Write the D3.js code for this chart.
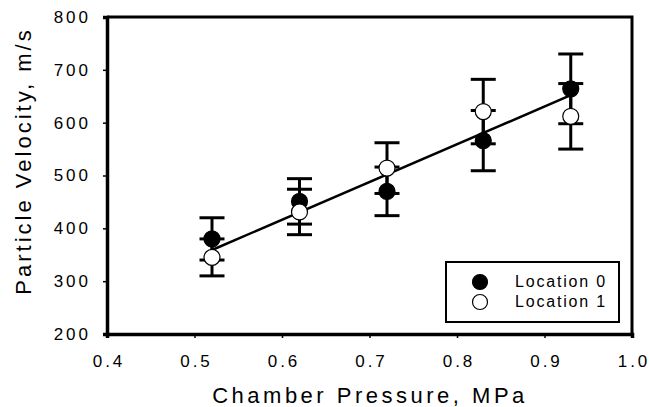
<!DOCTYPE html>
<html>
<head>
<meta charset="utf-8">
<script src="https://cdn.jsdelivr.net/npm/d3@7"></script>
<style>
  body { margin: 0; background: #fff; }
  text { font-family: "Liberation Sans", Arial, sans-serif; fill: #000; }
</style>
</head>
<body>
<script>
// values
var pressure = [0.52, 0.62, 0.72, 0.83, 0.93];
var loc0 = [380, 451, 470, 566, 664];
var loc0Err = [40, 43, 46, 57, 66];
var loc1 = [345, 431, 514, 621, 612];
var loc1Err = [35, 43, 48, 61, 62];
var fitLine = [[0.52, 359], [0.93, 652]];
var xTicks = [0.4, 0.5, 0.6, 0.7, 0.8, 0.9, 1.0];
var yTicks = [200, 300, 400, 500, 600, 700, 800];
var seriesNames = ["Location 0", "Location 1"];

var W = 649, H = 407;
var margin = {top: 17, right: 17, bottom: 73, left: 107};
var width = W - margin.left - margin.right;
var height = H - margin.top - margin.bottom;

var svg = d3.select("body")
  .append("svg")
    .attr("width", W)
    .attr("height", H);
var g = svg.append("g")
    .attr("transform", "translate(" + margin.left + "," + margin.top + ")");

var x = d3.scaleLinear().domain([0.4, 1.0]).range([0, width]);
var y = d3.scaleLinear().domain([200, 800]).range([height, 0]);

// frame top + right
g.append("path")
  .attr("d", "M0,0H" + width + "V" + height)
  .attr("fill", "none")
  .attr("stroke", "#000")
  .attr("stroke-width", 3);

var xAxis = g.append("g")
  .attr("transform", "translate(0," + height + ")")
  .call(d3.axisBottom(x).tickValues(xTicks).tickSize(4).tickPadding(17)
    .tickFormat(d3.format(".1f")));
var yAxis = g.append("g")
  .call(d3.axisLeft(y).tickValues(yTicks).tickSize(4).tickPadding(12));

[xAxis, yAxis].forEach(function(a) {
  a.select(".domain").attr("stroke-width", 3.5);
  a.selectAll(".tick line").attr("stroke-width", 1.5);
  a.selectAll(".tick text")
    .attr("font-size", 17)
    .style("letter-spacing", "3px")
    .attr("fill", "#000");
});
xAxis.selectAll(".tick text").attr("dx", 1.5);

// regression line
g.append("line")
  .attr("x1", x(fitLine[0][0])).attr("y1", y(fitLine[0][1]))
  .attr("x2", x(fitLine[1][0])).attr("y2", y(fitLine[1][1]))
  .attr("stroke", "#000")
  .attr("stroke-width", 2.5);

var series = [
  {vals: loc0, err: loc0Err, fill: "#000"},
  {vals: loc1, err: loc1Err, fill: "#fff"}
];

// error bars
series.forEach(function(s) {
  var eb = g.append("g").attr("stroke", "#000").attr("stroke-width", 3);
  pressure.forEach(function(p, i) {
    var cx = x(p), lo = y(s.vals[i] - s.err[i]), hi = y(s.vals[i] + s.err[i]);
    eb.append("line").attr("x1", cx).attr("x2", cx).attr("y1", lo).attr("y2", hi);
    eb.append("line").attr("x1", cx - 12.5).attr("x2", cx + 12.5).attr("y1", lo).attr("y2", lo);
    eb.append("line").attr("x1", cx - 12.5).attr("x2", cx + 12.5).attr("y1", hi).attr("y2", hi);
  });
});

// markers
series.forEach(function(s) {
  g.append("g")
    .selectAll("circle")
      .data(s.vals)
    .enter().append("circle")
      .attr("cx", function(d, i) { return x(pressure[i]); })
      .attr("cy", function(d) { return y(d); })
      .attr("r", 8)
      .attr("fill", s.fill)
      .attr("stroke", "#000")
      .attr("stroke-width", 1.2);
});

// legend
var lg = svg.append("g").attr("transform", "translate(446,262)");
lg.append("rect")
  .attr("width", 173).attr("height", 60)
  .attr("fill", "#fff")
  .attr("stroke", "#000")
  .attr("stroke-width", 2);
seriesNames.forEach(function(name, i) {
  lg.append("circle")
    .attr("cx", 34).attr("cy", 20 + i * 20)
    .attr("r", 7.5)
    .attr("fill", series[i].fill)
    .attr("stroke", "#000")
    .attr("stroke-width", 1.2);
  lg.append("text")
    .attr("x", 69).attr("y", 25 + i * 20)
    .attr("font-size", 16)
    .style("letter-spacing", "1.8px")
    .text(name);
});

// axis titles
svg.append("text")
  .attr("x", 370).attr("y", 403)
  .attr("text-anchor", "middle")
  .attr("font-size", 22)
  .style("letter-spacing", "3.5px")
  .text("Chamber Pressure, MPa");

svg.append("text")
  .attr("transform", "translate(31,161) rotate(-90)")
  .attr("text-anchor", "middle")
  .attr("font-size", 22)
  .style("letter-spacing", "3px")
  .text("Particle Velocity, m/s");
</script>
</body>
</html>
